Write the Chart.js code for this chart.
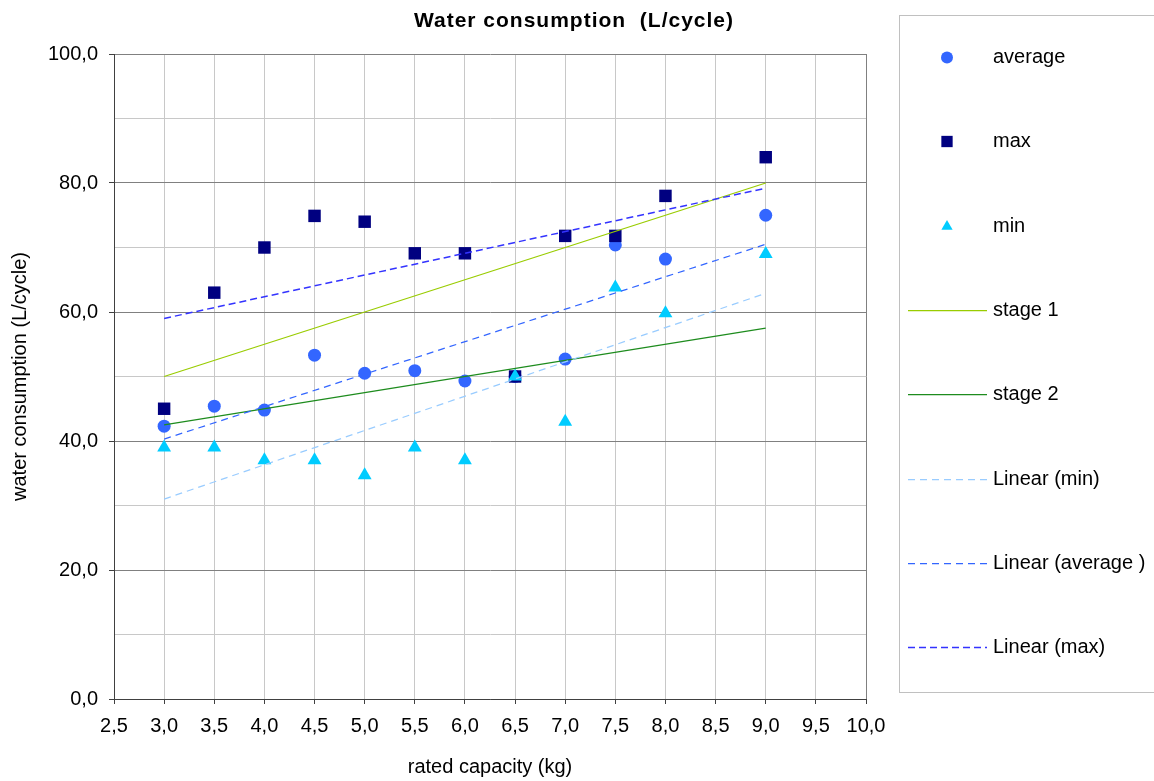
<!DOCTYPE html>
<html>
<head>
<meta charset="utf-8">
<title>Water consumption</title>
<script src="https://cdn.jsdelivr.net/npm/chart.js@4.4.0/dist/chart.umd.min.js"></script>
<style>
    html, body { margin: 0; padding: 0; background: #fff; }
    #wrap { width: 1154px; height: 781px; }
</style>
</head>
<body>
<div id="wrap"><canvas id="waterChart" width="1154" height="781"></canvas></div>
<script>
// Measured points (rated capacity in kg)
const capacity = [3.0, 3.5, 4.0, 4.5, 5.0, 5.5, 6.0, 6.5, 7.0, 7.5, 8.0, 9.0];
const averageVals = [42.3, 45.4, 44.8, 53.3, 50.5, 50.9, 49.3, 50.0, 52.7, 70.4, 68.2, 75.0];
const maxVals = [45.0, 63.0, 70.0, 74.9, 74.0, 69.1, 69.1, 50.0, 71.8, 71.8, 78.0, 84.0];
const minVals = [39.0, 39.0, 37.0, 37.0, 34.7, 39.0, 37.0, 50.0, 43.0, 63.8, 59.8, 69.0];

// Stage limits and trend lines (end points)
const lineX = [3.0, 9.0];
const stage1 = [50.0, 80.0];
const stage2 = [42.5, 57.5];
const trendMin = [31.0, 62.9];
const trendAverage = [40.3, 70.5];
const trendMax = [59.0, 79.2];

const xTicks = { min: 2.5, max: 10, step: 0.5 };
const yTicks = { min: 0, max: 100, step: 10, labelStep: 20 };

const FONT = "'Liberation Sans', Arial, sans-serif";

function toPoints(xs, ys) {
    return xs.map((x, i) => ({ x: x, y: ys[i] }));
}

function fmt(v) {
    return v.toFixed(1).replace('.', ',');
}

// Legend drawn in a box on the right, one row per series
const legendOrder = [0, 1, 2, 3, 4, 5, 6, 7];
const legendPlugin = {
    id: 'boxLegend',
    afterDraw(chart) {
        const ctx = chart.ctx;
        ctx.save();
        ctx.strokeStyle = '#C0C0C0';
        ctx.lineWidth = 1;
        ctx.strokeRect(899.5, 15.5, 270, 677);

        const top = 57, step = 84.3;
        legendOrder.forEach((idx, row) => {
            const ds = chart.data.datasets[idx];
            const y = Math.round(top + row * step) + 0.5;
            if (ds.showLine) {
                ctx.beginPath();
                ctx.setLineDash(ds.borderDash || []);
                ctx.strokeStyle = ds.borderColor;
                ctx.lineWidth = ds.borderWidth;
                ctx.moveTo(908, y);
                ctx.lineTo(987, y);
                ctx.stroke();
                ctx.setLineDash([]);
            } else {
                ctx.fillStyle = ds.backgroundColor;
                Chart.helpers.drawPoint(ctx, {
                    pointStyle: ds.pointStyle,
                    radius: ds.legendRadius,
                    rotation: 0,
                    borderWidth: 0
                }, 947, y);
            }
            ctx.fillStyle = '#000';
            ctx.font = '20px ' + FONT;
            ctx.textAlign = 'left';
            ctx.textBaseline = 'middle';
            ctx.fillText(ds.label, 993, y);
        });

        // Chart title
        ctx.font = 'bold 21px ' + FONT;
        ctx.textAlign = 'center';
        ctx.textBaseline = 'middle';
        ctx.letterSpacing = '1px';
        ctx.fillText('Water consumption  (L/cycle)', 574, 21);
        ctx.restore();
    }
};

const ctx = document.getElementById('waterChart').getContext('2d');
const waterChart = new Chart(ctx, {
    type: 'scatter',
    data: {
        datasets: [
            {
                label: 'average', data: toPoints(capacity, averageVals),
                pointStyle: 'circle', pointRadius: 6.5, legendRadius: 6,
                backgroundColor: '#3366FF', borderColor: '#3366FF',
                pointBorderWidth: 0, showLine: false, order: 8
            },
            {
                label: 'max', data: toPoints(capacity, maxVals),
                pointStyle: 'rect', pointRadius: 8.8, legendRadius: 8,
                backgroundColor: '#000080', borderColor: '#000080',
                pointBorderWidth: 0, showLine: false, order: 7
            },
            {
                label: 'min', data: toPoints(capacity, minVals),
                pointStyle: 'triangle', pointRadius: 8, legendRadius: 6.5,
                backgroundColor: '#00CCFF', borderColor: '#00CCFF',
                pointBorderWidth: 0, showLine: false, order: 6
            },
            {
                label: 'stage 1', data: toPoints(lineX, stage1),
                borderColor: '#99CC00', backgroundColor: '#99CC00', borderWidth: 1.25,
                pointRadius: 0, showLine: true, order: 5
            },
            {
                label: 'stage 2', data: toPoints(lineX, stage2),
                borderColor: '#1E8C1E', backgroundColor: '#1E8C1E', borderWidth: 1.25,
                pointRadius: 0, showLine: true, order: 4
            },
            {
                label: 'Linear (min)', data: toPoints(lineX, trendMin),
                borderColor: '#99CCFF', backgroundColor: '#99CCFF', borderWidth: 1.25,
                borderDash: [7, 5], pointRadius: 0, showLine: true, order: 3
            },
            {
                label: 'Linear (average )', data: toPoints(lineX, trendAverage),
                borderColor: '#3366FF', backgroundColor: '#3366FF', borderWidth: 1.25,
                borderDash: [7, 5], pointRadius: 0, showLine: true, order: 2
            },
            {
                label: 'Linear (max)', data: toPoints(lineX, trendMax),
                borderColor: '#3333FF', backgroundColor: '#3333FF', borderWidth: 1.5,
                borderDash: [7, 4], pointRadius: 0, showLine: true, order: 1
            }
        ]
    },
    options: {
        responsive: false,
        animation: false,
        devicePixelRatio: 1,
        layout: { padding: { top: 54, right: 288, left: 0, bottom: 0 } },
        plugins: {
            legend: { display: false },
            title: { display: false },
            tooltip: { enabled: false }
        },
        scales: {
            x: {
                type: 'linear',
                min: xTicks.min,
                max: xTicks.max,
                afterFit: s => { s.height = 82; },
                ticks: {
                    stepSize: xTicks.step,
                    callback: v => fmt(v),
                    color: '#000',
                    font: { family: FONT, size: 20 },
                    padding: 10,
                    maxRotation: 0,
                    autoSkip: false
                },
                grid: {
                    color: c => (c.tick && c.tick.value === xTicks.max) ? '#808080' : '#C8C8C8',
                    tickColor: '#404040',
                    tickLength: 5
                },
                border: { color: '#404040', width: 1 },
                title: {
                    display: true,
                    text: 'rated capacity (kg)',
                    color: '#000',
                    font: { family: FONT, size: 20 },
                    padding: { top: 0, bottom: 2 }
                }
            },
            y: {
                min: yTicks.min,
                max: yTicks.max,
                afterFit: s => { s.width = 114; },
                ticks: {
                    stepSize: yTicks.step,
                    callback: v => (v % yTicks.labelStep === 0 ? fmt(v) : ''),
                    color: '#000',
                    font: { family: FONT, size: 20 },
                    padding: 11
                },
                grid: {
                    color: c => (c.tick && c.tick.value % yTicks.labelStep === 0) ? '#808080' : '#C8C8C8',
                    tickColor: c => (c.tick && c.tick.value % yTicks.labelStep === 0) ? '#404040' : 'rgba(0,0,0,0)',
                    tickLength: 5
                },
                border: { color: '#404040', width: 1 },
                title: {
                    display: true,
                    text: 'water consumption (L/cycle)',
                    color: '#000',
                    font: { family: FONT, size: 20 },
                    padding: { top: 8, bottom: 0 }
                }
            }
        }
    },
    plugins: [legendPlugin]
});
</script>
</body>
</html>
